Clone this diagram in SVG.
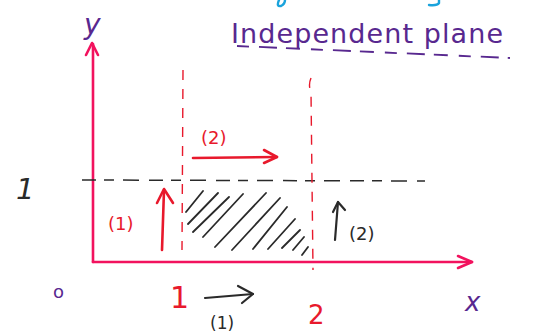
<svg xmlns="http://www.w3.org/2000/svg" width="534" height="334" viewBox="0 0 534 334">
<style>
.axis{stroke:#f2125e;stroke-width:2.6;fill:none;stroke-linecap:round;stroke-linejoin:round}
.red{stroke:#e8192c;stroke-width:2.6;fill:none;stroke-linecap:round;stroke-linejoin:round}
.redd{stroke:#e8192c;stroke-width:1.4;fill:none;stroke-dasharray:10 9}
.blk{stroke:#2a2a2a;stroke-width:2.2;fill:none;stroke-linecap:round;stroke-linejoin:round}
.hatch{stroke:#2a2a2a;stroke-width:1.8;fill:none;stroke-linecap:round}
.pur{fill:#58288f;font-family:"DejaVu Sans",sans-serif}
.rt{fill:#e8192c;font-family:"DejaVu Sans",sans-serif}
.bt{fill:#2a2a2a;font-family:"DejaVu Sans",sans-serif}
</style>
<rect width="534" height="334" fill="#fff"/>
<!-- cut-off blue strokes at top -->
<path d="M279 0 Q276 7 281 6 Q285 4 285 0" stroke="#1aa3dc" stroke-width="2.4" fill="none" stroke-linecap="round"/>
<path d="M429 5 Q437 6 439 3 L439 0" stroke="#1aa3dc" stroke-width="2.4" fill="none" stroke-linecap="round"/>
<g id="title">
<text class="pur" x="231" y="43" font-size="27" textLength="272" lengthAdjust="spacing">Independent plane</text>
<path d="M237 46 L510 58" stroke="#58288f" stroke-width="1.8" fill="none" stroke-dasharray="12 10 18 9 14 11"/>
</g>
<g id="connectors">
<!-- axes -->
<path class="axis" d="M93 262 L93 44"/>
<path class="axis" d="M86 55 L92 43 L98 55"/>
<path class="axis" d="M93 262 L472 262"/>
<path class="axis" d="M458 256 L472 262 L458 268"/>
<!-- y=1 dashed -->
<path d="M82 180 L425 181" stroke="#2a2a2a" stroke-width="1.5" fill="none" stroke-dasharray="14 8 10 9 16 10"/>
<!-- x=1 and x=2 dashed -->
<path class="redd" d="M183 70 L182 250"/>
<path class="redd" d="M311 78 Q308 85 311 92 L313 270"/>
<!-- red (2) arrow -->
<path class="red" d="M193 158 L277 157"/>
<path class="red" d="M264 150 L277 157 L264 163"/>
<!-- red (1) arrow -->
<path class="red" d="M162 250 L164 190"/>
<path class="red" d="M157 203 L164 189 L173 203"/>
<!-- black (2) arrow -->
<path class="blk" d="M335 240 L338 202"/>
<path class="blk" d="M333 212 L338 202 L345 210"/>
<!-- black (1) arrow -->
<path class="blk" d="M205 298 L253 294"/>
<path class="blk" d="M238 286 L253 294 L242 303"/>
</g>
<g id="hatch">
<path class="hatch" d="M186 212 L203 191 M188 224 L218 193 M193 232 L229 197 M203 237 L243 194 M215 247 L266 193 M232 250 L280 198 M253 249 L287 207 M268 249 L295 219 M282 248 L300 230 M293 250 L304 237 M302 255 L308 247"/>
</g>
<g id="labels">
<text class="pur" x="84" y="34" font-size="28" font-style="italic">y</text>
<text class="bt" x="16" y="199" font-size="29" font-style="italic">1</text>
<text class="pur" x="53" y="298" font-size="18">o</text>
<text class="pur" x="465" y="311" font-size="26" font-style="italic">x</text>
<text class="rt" x="201" y="144" font-size="18">(2)</text>
<text class="rt" x="108" y="230" font-size="18">(1)</text>
<text class="bt" x="349" y="240" font-size="18">(2)</text>
<text class="rt" x="170" y="308" font-size="30">1</text>
<text class="rt" x="308" y="324" font-size="26">2</text>
<text class="bt" x="210" y="329" font-size="17">(1)</text>
</g>
</svg>
